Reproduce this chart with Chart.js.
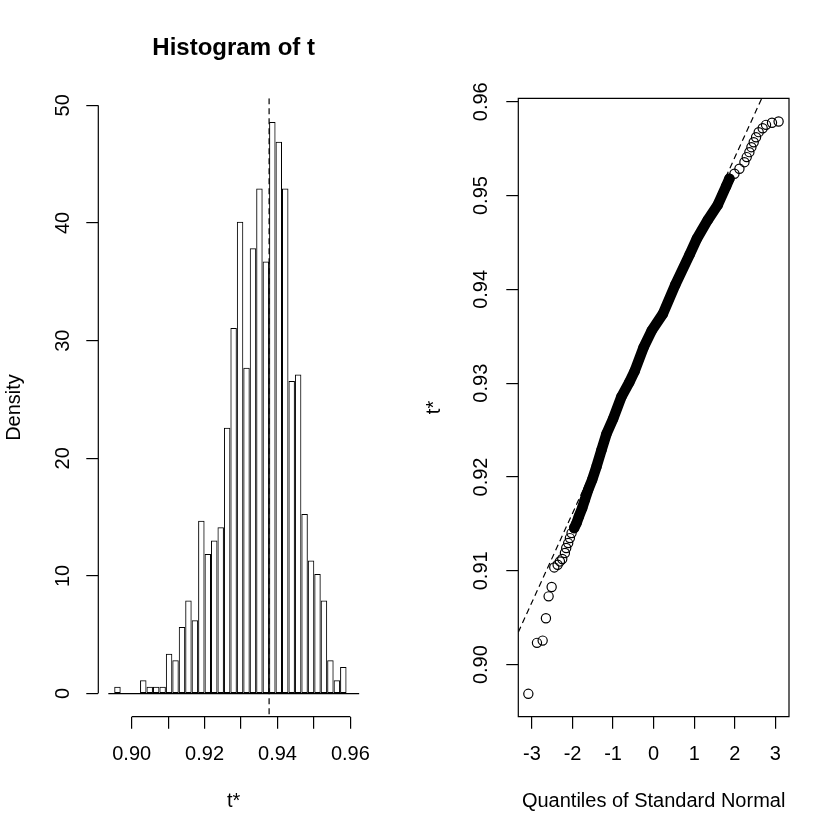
<!DOCTYPE html>
<html lang="en">
<head>
<meta charset="UTF-8" />
<title>Bootstrap replicates of t</title>
<script src="https://cdn.jsdelivr.net/npm/chart.js"></script>
<style>
  body { margin: 0; background: #fff; }
  #wrap { position: relative; width: 840px; height: 840px; background: #fff; }
  canvas { position: absolute; top: 0; }
  #hist { left: 0; }
  #qq { left: 420px; }
</style>
</head>
<body>
<div id="wrap">
  <canvas id="hist" width="420" height="840"></canvas>
  <canvas id="qq" width="420" height="840"></canvas>
</div>
<script>
// observed statistic (dashed line on the histogram)
const tObserved = 0.9377;

// histogram: bin mid-points and densities
const histMids = [
  0.896105, 0.897875, 0.899645, 0.901415, 0.903185, 0.904955, 0.906725, 0.908495,
  0.910265, 0.912035, 0.913805, 0.915575, 0.917345, 0.919115, 0.920885, 0.922655,
  0.924425, 0.926195, 0.927965, 0.929735, 0.931505, 0.933275, 0.935045, 0.936815,
  0.938585, 0.940355, 0.942125, 0.943895, 0.945665, 0.947435, 0.949205, 0.950975,
  0.952745, 0.954515, 0.956285, 0.958055
];
const histDensity = [
  0.57, 0, 0, 0, 1.13, 0.57, 0.57, 0.57,
  3.39, 2.83, 5.65, 7.91, 6.22, 14.69, 11.87, 13.00,
  14.13, 22.60, 31.08, 40.11, 27.69, 37.86, 42.94, 36.73,
  48.59, 46.90, 42.94, 26.56, 27.12, 15.26, 11.30, 10.17,
  7.91, 2.83, 1.13, 2.26
];
const histBaseX = [0.8936, 0.9624];
const histXTicks = [0.90, 0.91, 0.92, 0.93, 0.94, 0.95, 0.96];
const histYTicks = [0, 10, 20, 30, 40, 50];

// normal QQ plot: theoretical quantiles and ordered t*
const qqTheo = [
  -3.090, -2.877, -2.737, -2.656, -2.590, -2.515,
  -2.451, -2.368, -2.311, -2.254, -2.188, -2.156, -2.107, -2.065, -2.024,
  -1.960, -1.901, -1.844, -1.763, -1.697, -1.615, -1.517, -1.409, -1.286,
  -1.163, -1.000, -0.794, -0.600, -0.467, -0.250, -0.049, 0.229, 0.534,
  0.885, 1.065, 1.335, 1.581, 1.788, 1.869, 1.992, 2.115, 2.238, 2.295,
  2.360, 2.410, 2.467, 2.525, 2.590, 2.688, 2.771, 2.918, 3.081
];
const qqT = [
  0.89689, 0.90232, 0.90256, 0.90494, 0.90728, 0.90828,
  0.91036, 0.91065, 0.91100, 0.91126, 0.91190, 0.91243, 0.91296, 0.91349, 0.91402,
  0.91456, 0.91509, 0.91579, 0.91668, 0.91757, 0.91863, 0.91970, 0.92111, 0.92289,
  0.92460, 0.92620, 0.92856, 0.93010, 0.93130, 0.93380, 0.93560, 0.93740, 0.94050,
  0.94370, 0.94540, 0.94740, 0.94900, 0.95100, 0.95180, 0.95233, 0.95286, 0.95356, 0.95410,
  0.95463, 0.95516, 0.95569, 0.95622, 0.95676, 0.95718, 0.95754, 0.95776, 0.95790
];
const qqLine = [0.9351, 0.00948]; // intercept, slope of the dashed line
const qqXTicks = [-3, -2, -1, 0, 1, 2, 3];
const qqYTicks = [0.90, 0.91, 0.92, 0.93, 0.94, 0.95, 0.96];

Chart.defaults.font.family = '"Liberation Sans", Arial, sans-serif';
Chart.defaults.font.size = 20;
Chart.defaults.color = '#000';

const LW = 1.2;

// R style axis: line only between first and last tick, or a full box
function rAxes(box) {
  return {
    id: 'rAxes',
    afterDraw(chart) {
      const { ctx, chartArea: a, scales: { x, y } } = chart;
      ctx.save();
      ctx.strokeStyle = '#000';
      ctx.lineWidth = LW;
      ctx.beginPath();
      if (box) {
        ctx.rect(a.left, a.top, a.right - a.left, a.bottom - a.top);
      } else {
        const xt = x.ticks, yt = y.ticks;
        ctx.moveTo(x.getPixelForValue(xt[0].value), a.bottom);
        ctx.lineTo(x.getPixelForValue(xt[xt.length - 1].value), a.bottom);
        ctx.moveTo(a.left, y.getPixelForValue(yt[0].value));
        ctx.lineTo(a.left, y.getPixelForValue(yt[yt.length - 1].value));
      }
      ctx.stroke();
      ctx.restore();
    }
  };
}

// dashed reference lines (abline)
function refLine(vline, abline) {
  return {
    id: 'refLine',
    afterDatasetsDraw(chart) {
      const { ctx, chartArea: a, scales: { x, y } } = chart;
      ctx.save();
      ctx.beginPath();
      ctx.rect(a.left, a.top, a.right - a.left, a.bottom - a.top);
      ctx.clip();
      ctx.setLineDash([6, 4]);
      ctx.lineWidth = LW;
      ctx.strokeStyle = '#000';
      ctx.beginPath();
      if (vline !== null) {
        const px = x.getPixelForValue(vline);
        ctx.moveTo(px, a.top);
        ctx.lineTo(px, a.bottom);
      }
      if (abline) {
        ctx.moveTo(a.left, y.getPixelForValue(abline[0] + abline[1] * x.min));
        ctx.lineTo(a.right, y.getPixelForValue(abline[0] + abline[1] * x.max));
      }
      ctx.stroke();
      ctx.restore();
    }
  };
}

function axisOpts(extra) {
  return Object.assign({
    grid: { drawOnChartArea: false, drawTicks: true, tickLength: 12, color: '#000', lineWidth: LW, offset: false },
    border: { display: false }
  }, extra);
}

// ---- histogram ----
new Chart(document.getElementById('hist'), {
  type: 'bar',
  data: {
    datasets: [
      {
        type: 'bar',
        data: histMids.map((m, i) => ({ x: m, y: histDensity[i] })),
        backgroundColor: 'rgba(255,255,255,0)',
        borderColor: '#000',
        borderWidth: 1,
        borderSkipped: false,
        inflateAmount: 0,
        barPercentage: 1,
        categoryPercentage: 1,
        order: 2
      },
      {
        type: 'line',
        data: histBaseX.map(v => ({ x: v, y: 0 })),
        borderColor: '#000',
        borderWidth: LW,
        pointRadius: 0,
        order: 1
      }
    ]
  },
  options: {
    responsive: false,
    animation: false,
    devicePixelRatio: 1,
    layout: { padding: { left: 0, right: 51, top: 0, bottom: 0 } },
    plugins: {
      legend: { display: false },
      tooltip: { enabled: false },
      title: {
        display: true, text: 'Histogram of t', fullSize: false, color: '#000',
        font: { size: 24, weight: 'bold' }, padding: { top: 34, bottom: 35.5 }
      }
    },
    scales: {
      x: axisOpts({
        type: 'linear', min: 0.89085, max: 0.9651, offset: false,
        afterBuildTicks: s => { s.ticks = histXTicks.map(v => ({ value: v })); },
        afterFit: s => { s.height = 123.3; },
        ticks: { autoSkip: false, maxRotation: 0, padding: 14, callback: (v, i) => i % 2 === 0 ? v.toFixed(2) : '' },
        title: { display: true, text: 't*', padding: { top: 0, bottom: 27 } }
      }),
      y: axisOpts({
        min: -1.97, max: 50.6,
        afterBuildTicks: s => { s.ticks = histYTicks.map(v => ({ value: v })); },
        afterFit: s => { s.width = 98.3; },
        ticks: { autoSkip: false, minRotation: 90, maxRotation: 90, crossAlign: 'center', padding: 12 },
        title: { display: true, text: 'Density', padding: { top: 2, bottom: 0 } }
      })
    }
  },
  plugins: [refLine(tObserved, null), rAxes(false)]
});

// ---- normal QQ plot ----
const qqPts = qqTheo.map((q, i) => ({ x: q, y: qqT[i] }));
const bandFrom = -1.96, bandTo = 1.87;

new Chart(document.getElementById('qq'), {
  type: 'scatter',
  data: {
    datasets: [
      {
        data: qqPts,
        pointStyle: 'circle',
        pointRadius: 4.6,
        pointBorderWidth: LW,
        pointBorderColor: '#000',
        pointBackgroundColor: 'rgba(255,255,255,0)',
        showLine: false
      },
      {
        data: qqPts.filter(p => p.x >= bandFrom && p.x <= bandTo),
        showLine: true,
        borderColor: '#000',
        borderWidth: 10.5,
        borderJoinStyle: 'round',
        borderCapStyle: 'round',
        pointRadius: 0
      }
    ]
  },
  options: {
    responsive: false,
    animation: false,
    devicePixelRatio: 1,
    layout: { padding: { left: 0, right: 51, top: 98.3, bottom: 0 } },
    plugins: { legend: { display: false }, tooltip: { enabled: false } },
    scales: {
      x: axisOpts({
        type: 'linear', min: -3.3374, max: 3.3374,
        afterBuildTicks: s => { s.ticks = qqXTicks.map(v => ({ value: v })); },
        afterFit: s => { s.height = 123.3; },
        ticks: { autoSkip: false, maxRotation: 0, padding: 14, callback: v => String(v) },
        title: { display: true, text: 'Quantiles of Standard Normal', padding: { top: 0, bottom: 27 } }
      }),
      y: axisOpts({
        type: 'linear', min: 0.89445, max: 0.96037,
        afterBuildTicks: s => { s.ticks = qqYTicks.map(v => ({ value: v })); },
        afterFit: s => { s.width = 98.3; },
        ticks: { autoSkip: false, minRotation: 90, maxRotation: 90, crossAlign: 'center', padding: 5, callback: v => v.toFixed(2) },
        title: { display: true, text: 't*', padding: { top: 2, bottom: 0 } }
      })
    }
  },
  plugins: [refLine(null, qqLine), rAxes(true)]
});
</script>
</body>
</html>
